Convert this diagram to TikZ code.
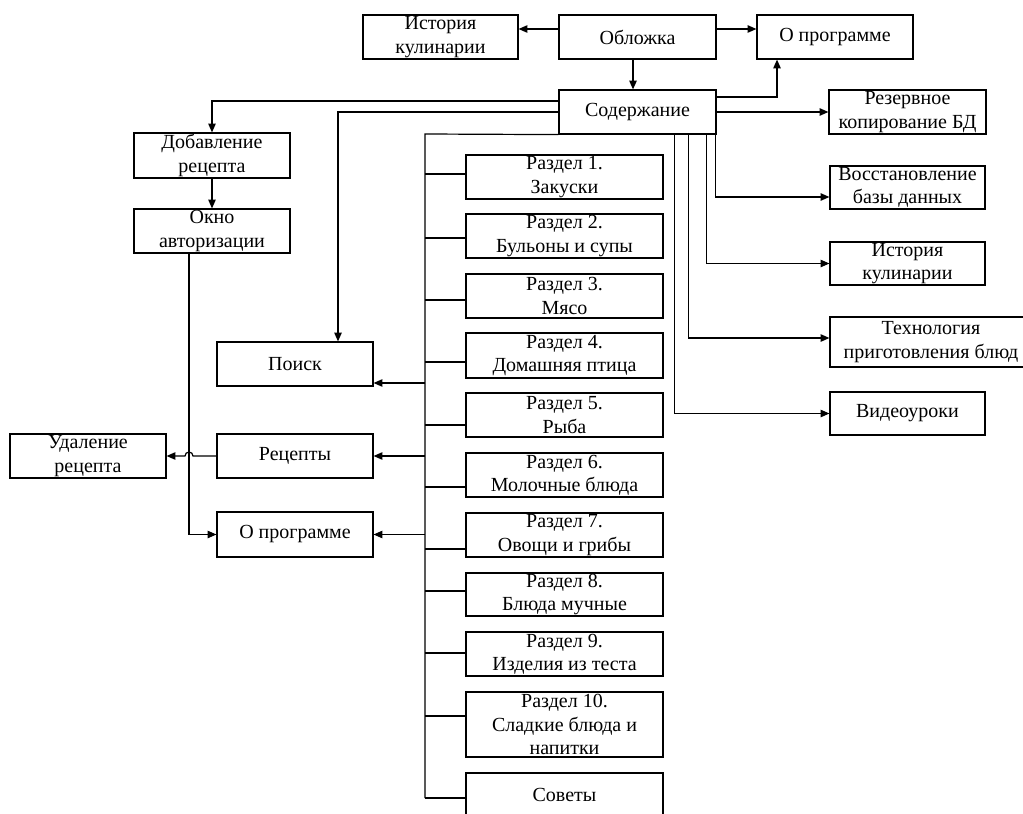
\documentclass[tikz,border=0pt]{standalone}
\usepackage{fontspec}
\setmainfont{Liberation Serif}
\usetikzlibrary{arrows.meta,calc}
\tikzset{
  box/.style={draw, line width=0.9pt, inner sep=0pt, align=center, font=\fontsize{15}{17.5}\selectfont},
  wire/.style={line width=0.9pt},
  arr/.style={wire, -{Triangle[length=6.5pt,width=5.5pt]}},
}
\newcommand\bx[6]{\node[box, minimum width={(#4-#2)*0.75pt}, minimum height={(#5-#3)*0.75pt}] (#1) at ({(#2+#4)/2},{(#3+#5)/2}) {#6};}
\begin{document}
\begin{tikzpicture}[x=0.75pt,y=-0.75pt]
\useasboundingbox (0,0) rectangle (1023,813);
\clip (0,0) rectangle (1023,813);
% top row
\bx{histT}{363}{15}{518}{59}{История\\кулинарии}
\bx{cover}{559}{15}{716}{59}{Обложка}
\bx{aboutT}{757}{15}{913}{59}{О программе}
\bx{content}{559}{90}{716}{134}{Содержание}
% right column
\bx{backup}{829}{90}{986}{134}{Резервное\\копирование БД}
\bx{restore}{830}{166}{985}{209}{Восстановление\\базы данных}
\bx{histR}{830}{242}{985}{285}{История\\кулинарии}
\bx{tech}{830}{317}{1032}{367}{Технология\\приготовления блюд}
\bx{video}{830}{392}{985}{435}{Видеоуроки}
% left column
\bx{add}{134}{133}{290}{178}{Добавление\\рецепта}
\bx{auth}{134}{209}{290}{253}{Окно\\авторизации}
\bx{search}{217}{342}{373}{386}{Поиск}
\bx{recipes}{217}{434}{373}{478}{Рецепты}
\bx{del}{10}{434}{166}{478}{Удаление\\рецепта}
\bx{aboutL}{217}{512}{373}{557}{О программе}
% sections
\bx{r1}{466}{155}{663}{199}{Раздел 1.\\Закуски}
\bx{r2}{466}{214}{663}{258}{Раздел 2.\\Бульоны и супы}
\bx{r3}{466}{274}{663}{318}{Раздел 3.\\Мясо}
\bx{r4}{466}{333}{663}{378}{Раздел 4.\\Домашняя птица}
\bx{r5}{466}{393}{663}{437}{Раздел 5.\\Рыба}
\bx{r6}{466}{453}{663}{497}{Раздел 6.\\Молочные блюда}
\bx{r7}{466}{513}{663}{557}{Раздел 7.\\Овощи и грибы}
\bx{r8}{466}{573}{663}{616}{Раздел 8.\\Блюда мучные}
\bx{r9}{466}{632}{663}{676}{Раздел 9.\\Изделия из теста}
\bx{r10}{466}{692}{663}{757}{Раздел 10.\\Сладкие блюда и\\напитки}
\bx{tips}{466}{773}{663}{817}{Советы}
% top connectors
\draw[arr] ($(cover.west)+(0,-8)$) -- ($(histT.east)+(0,-8)$);
\draw[arr] ($(cover.east)+(0,-8)$) -- ($(aboutT.west)+(0,-8)$);
\draw[arr] ($(cover.south)+(-4.5,0)$) -- ($(content.north)+(-4.5,0)$);
\draw[arr] ($(content.east)+(0,-15)$) -| ($(aboutT.south)+(-58,0)$);
% right connectors
\draw[arr] (content.east) -- (backup.west);
\draw[arr] ($(content.south east)+(-1,0)$) |- ($(restore.west)+(0,9.5)$);
\draw[arr] ($(content.south east)+(-10,0)$) |- (histR.west);
\draw[arr] ($(content.south east)+(-28,0)$) |- ($(tech.west)+(0,-4)$);
\draw[arr] ($(content.south east)+(-42,0)$) |- (video.west);
% left connectors
\draw[arr] ($(content.west)+(0,-11)$) -| (add.north);
\draw[arr] (content.west) -| ($(search.north)+(43,0)$);
\draw[arr] (add.south) -- (auth.north);
\coordinate (vx) at ($(auth.south)+(-23,0)$);
\draw[arr] (vx) |- (aboutL.west);
\draw[arr] (recipes.west) -- ($(recipes.west -| vx)+(4,0)$) arc[start angle=0, end angle=180, radius=3pt] -- (del.east);
% sections bar
\coordinate (bt) at (425,134);
\coordinate (bb) at (425,798);
\draw[wire] (content.south west) -- (bt) -- (bb);
\foreach \n/\o in {r1/-3,r2/2,r3/4,r4/6.5,r5/10,r6/12,r7/14,r8/-3.5,r9/-1,r10/-8.5,tips/3}{
  \path ($(\n.west)+(0,\o)$) coordinate (tmp);
  \draw[wire] (tmp -| bt) -- (tmp);
}
\path ($(search.east)+(0,19)$) coordinate (sa);
\draw[arr] (sa -| bt) -- (sa);
\draw[arr] (recipes.east -| bt) -- (recipes.east);
\draw[arr] (aboutL.east -| bt) -- (aboutL.east);
\end{tikzpicture}
\end{document}
